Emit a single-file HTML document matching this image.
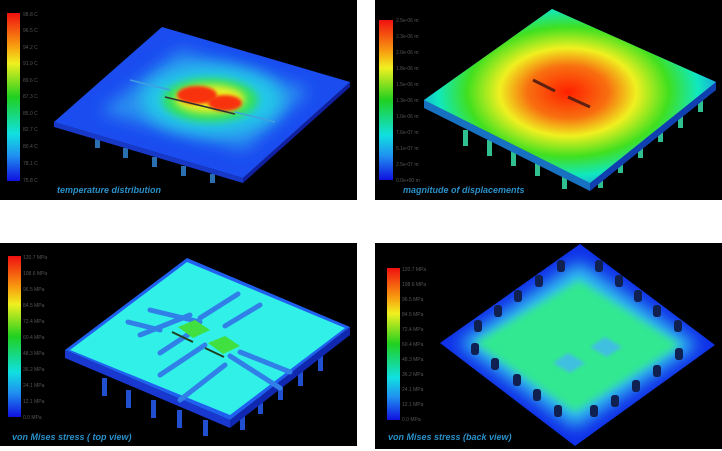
<!DOCTYPE html>
<html><head><meta charset="utf-8"><style>
html,body{margin:0;padding:0;background:#fff;width:722px;height:451px;overflow:hidden}
svg{display:block}
text{font-family:"Liberation Sans",sans-serif}
</style></head><body>
<svg width="722" height="451" viewBox="0 0 722 451" xmlns="http://www.w3.org/2000/svg">
<defs>
<linearGradient id="cb" x1="0" y1="0" x2="0" y2="1">
<stop offset="0" stop-color="#f01010"/><stop offset="0.2" stop-color="#f8a010"/><stop offset="0.3" stop-color="#f0f020"/>
<stop offset="0.5" stop-color="#20d020"/><stop offset="0.72" stop-color="#10e0e0"/><stop offset="0.85" stop-color="#2090f0"/><stop offset="1" stop-color="#1010e0"/>
</linearGradient>
<filter id="b4" x="-50%" y="-50%" width="200%" height="200%"><feGaussianBlur stdDeviation="4"/></filter>
<filter id="b8" x="-50%" y="-50%" width="200%" height="200%"><feGaussianBlur stdDeviation="8"/></filter>
<filter id="b2" x="-50%" y="-50%" width="200%" height="200%"><feGaussianBlur stdDeviation="1.5"/></filter>
<radialGradient id="disp" cx="0.5" cy="0.5" r="0.55">
<stop offset="0" stop-color="#ff2000"/><stop offset="0.25" stop-color="#f87010"/><stop offset="0.42" stop-color="#f0f020"/>
<stop offset="0.62" stop-color="#40e020"/><stop offset="0.8" stop-color="#10e8c0"/><stop offset="1" stop-color="#2080f0"/>
</radialGradient>
</defs>

<rect x="0" y="0" width="357" height="200" fill="#000"/>
<rect x="375" y="0" width="347" height="200" fill="#000"/>
<rect x="0" y="243" width="357" height="203" fill="#000"/>
<rect x="375" y="243" width="347" height="206" fill="#000"/>

<!-- TL temperature -->
<rect x="7" y="13" width="13" height="168" fill="url(#cb)"/>
<g fill="#555" font-size="5">
<text x="23" y="16">98.8 C</text><text x="23" y="32">96.5 C</text><text x="23" y="49">94.2 C</text><text x="23" y="65">91.9 C</text><text x="23" y="82">89.6 C</text><text x="23" y="98">87.3 C</text><text x="23" y="115">85.0 C</text><text x="23" y="131">82.7 C</text><text x="23" y="148">80.4 C</text><text x="23" y="165">78.1 C</text><text x="23" y="182">75.8 C</text>
</g>
<g fill="#2a70b0"><rect x="95" y="138" width="5" height="10"/><rect x="123" y="148" width="5" height="10"/><rect x="152" y="157" width="5" height="10"/><rect x="181" y="166" width="5" height="10"/><rect x="210" y="174" width="5" height="9"/></g>
<polygon points="54,122 243,178 243,183 54,127" fill="#1838c8"/>
<polygon points="243,178 350,82 350,87 243,183" fill="#1020a0"/>
<polygon points="162,27 350,82 243,178 54,122" fill="#1a4cf0"/>
<clipPath id="c1"><polygon points="162,27 350,82 243,178 54,122"/></clipPath>
<g clip-path="url(#c1)">
<polygon points="180,50 310,90 245,150 100,112" fill="#2a90f0" filter="url(#b8)"/>
<ellipse cx="212" cy="100" rx="70" ry="34" fill="#20c8e8" filter="url(#b8)"/>
<ellipse cx="210" cy="100" rx="48" ry="22" fill="#30e060" filter="url(#b4)"/>
<ellipse cx="210" cy="99" rx="35" ry="14" fill="#f0f020" filter="url(#b4)"/>
<ellipse cx="197" cy="95" rx="20" ry="9" fill="#f83010" filter="url(#b2)"/>
<ellipse cx="225" cy="103" rx="17" ry="8" fill="#f83010" filter="url(#b2)"/>
<line x1="165" y1="97" x2="235" y2="114" stroke="#303030" stroke-width="1.5"/>
<line x1="130" y1="80" x2="170" y2="90" stroke="#40a0e0" stroke-width="1.5"/>
<line x1="235" y1="112" x2="275" y2="122" stroke="#40a0e0" stroke-width="1.5"/>
</g>
<text x="57" y="193" font-size="9" font-style="italic" font-weight="bold" fill="#2a90c8">temperature distribution</text>

<!-- TR displacement -->
<rect x="379" y="20" width="14" height="160" fill="url(#cb)"/>
<g fill="#555" font-size="5">
<text x="396" y="22">2.5e-06 m</text><text x="396" y="38">2.3e-06 m</text><text x="396" y="54">2.0e-06 m</text><text x="396" y="70">1.8e-06 m</text><text x="396" y="86">1.5e-06 m</text><text x="396" y="102">1.3e-06 m</text><text x="396" y="118">1.0e-06 m</text><text x="396" y="134">7.6e-07 m</text><text x="396" y="150">5.1e-07 m</text><text x="396" y="166">2.5e-07 m</text><text x="396" y="182">0.0e+00 m</text>
</g>
<g fill="#30c090"><rect x="463" y="130" width="5" height="16"/><rect x="487" y="140" width="5" height="16"/><rect x="511" y="150" width="5" height="16"/><rect x="535" y="160" width="5" height="16"/><rect x="562" y="171" width="5" height="18"/><rect x="598" y="170" width="5" height="18"/><rect x="618" y="155" width="5" height="18"/><rect x="638" y="140" width="5" height="18"/><rect x="658" y="126" width="5" height="16"/><rect x="678" y="112" width="5" height="16"/><rect x="698" y="96" width="5" height="16"/></g>
<polygon points="424,100 590,183 590,191 424,108" fill="#1870c0"/>
<polygon points="590,183 716,82 716,90 590,191" fill="#1040b0"/>
<polygon points="552,9 716,82 590,183 424,100" fill="#3080f0"/>
<clipPath id="c2"><polygon points="552,9 716,82 590,183 424,100"/></clipPath>
<g clip-path="url(#c2)">
<ellipse cx="568" cy="92" rx="148" ry="95" fill="url(#disp)"/>
<line x1="533" y1="80" x2="555" y2="91" stroke="#602010" stroke-width="3"/>
<line x1="568" y1="97" x2="590" y2="107" stroke="#602010" stroke-width="3"/>
</g>
<text x="403" y="193" font-size="9" font-style="italic" font-weight="bold" fill="#2a90c8">magnitude of displacements</text>

<!-- BL top view -->
<rect x="8" y="256" width="13" height="161" fill="url(#cb)"/>
<g fill="#555" font-size="5">
<text x="23" y="259">120.7 MPa</text><text x="23" y="275">108.6 MPa</text><text x="23" y="291">96.5 MPa</text><text x="23" y="307">84.5 MPa</text><text x="23" y="323">72.4 MPa</text><text x="23" y="339">60.4 MPa</text><text x="23" y="355">48.3 MPa</text><text x="23" y="371">36.2 MPa</text><text x="23" y="387">24.1 MPa</text><text x="23" y="403">12.1 MPa</text><text x="23" y="419">0.0 MPa</text>
</g>
<g fill="#2050d0"><rect x="102" y="378" width="5" height="18"/><rect x="126" y="390" width="5" height="18"/><rect x="151" y="400" width="5" height="18"/><rect x="177" y="410" width="5" height="18"/><rect x="203" y="420" width="5" height="16"/><rect x="240" y="412" width="5" height="18"/><rect x="258" y="396" width="5" height="18"/><rect x="278" y="382" width="5" height="18"/><rect x="298" y="368" width="5" height="18"/><rect x="318" y="353" width="5" height="18"/></g>
<polygon points="65,350 230,420 230,428 65,358" fill="#1838d0"/>
<polygon points="230,420 350,327 350,335 230,428" fill="#1028b0"/>
<polygon points="187,258 350,327 230,420 65,350" fill="#2060f0"/>
<polygon points="187,262 345,328 230,415 70,350" fill="#30f0e8"/>
<g stroke="#3080e8" stroke-width="5" stroke-linecap="round" fill="none">
<line x1="140" y1="335" x2="190" y2="315"/><line x1="160" y1="353" x2="195" y2="330"/>
<line x1="200" y1="318" x2="238" y2="294"/><line x1="225" y1="326" x2="260" y2="305"/>
<line x1="230" y1="356" x2="280" y2="388"/><line x1="240" y1="352" x2="290" y2="372"/>
<line x1="150" y1="310" x2="200" y2="322"/><line x1="128" y1="322" x2="160" y2="330"/>
<line x1="180" y1="400" x2="225" y2="365"/><line x1="160" y1="375" x2="205" y2="345"/>
</g>
<polygon points="178,327 195,320 210,330 193,338" fill="#40e040"/>
<polygon points="208,343 225,336 240,346 223,354" fill="#40e040"/>
<line x1="172" y1="332" x2="193" y2="342" stroke="#204020" stroke-width="2"/>
<line x1="205" y1="348" x2="224" y2="357" stroke="#204020" stroke-width="2"/>
<text x="12" y="440" font-size="9" font-style="italic" font-weight="bold" fill="#2a90c8">von Mises stress ( top view)</text>

<!-- BR back view -->
<rect x="387" y="268" width="13" height="152" fill="url(#cb)"/>
<g fill="#555" font-size="5">
<text x="402" y="271">120.7 MPa</text><text x="402" y="286">108.6 MPa</text><text x="402" y="301">96.5 MPa</text><text x="402" y="316">84.5 MPa</text><text x="402" y="331">72.4 MPa</text><text x="402" y="346">60.4 MPa</text><text x="402" y="361">48.3 MPa</text><text x="402" y="376">36.2 MPa</text><text x="402" y="391">24.1 MPa</text><text x="402" y="406">12.1 MPa</text><text x="402" y="421">0.0 MPa</text>
</g>
<polygon points="580,244 715,345 575,446 440,343" fill="#1030e8"/>
<clipPath id="c4"><polygon points="580,244 715,345 575,446 440,343"/></clipPath>
<g clip-path="url(#c4)">
<polygon points="579,262 698,345 575,428 458,343" fill="#30c0f0" filter="url(#b8)"/>
<polygon points="579,280 680,345 575,412 475,343" fill="#30e890" filter="url(#b4)"/>
<polygon points="590,347 605,337 622,347 607,357" fill="#40c0e0" filter="url(#b2)"/>
<polygon points="553,363 568,353 585,363 570,373" fill="#40c0e0" filter="url(#b2)"/>
</g>
<g fill="#102050">
<rect x="557" y="260" width="8" height="12" rx="3"/><rect x="595" y="260" width="8" height="12" rx="3"/>
<rect x="535" y="275" width="8" height="12" rx="3"/><rect x="615" y="275" width="8" height="12" rx="3"/>
<rect x="514" y="290" width="8" height="12" rx="3"/><rect x="634" y="290" width="8" height="12" rx="3"/>
<rect x="494" y="305" width="8" height="12" rx="3"/><rect x="653" y="305" width="8" height="12" rx="3"/>
<rect x="474" y="320" width="8" height="12" rx="3"/><rect x="674" y="320" width="8" height="12" rx="3"/>
<rect x="471" y="343" width="8" height="12" rx="3"/><rect x="675" y="348" width="8" height="12" rx="3"/>
<rect x="491" y="358" width="8" height="12" rx="3"/><rect x="653" y="365" width="8" height="12" rx="3"/>
<rect x="513" y="374" width="8" height="12" rx="3"/><rect x="632" y="380" width="8" height="12" rx="3"/>
<rect x="533" y="389" width="8" height="12" rx="3"/><rect x="611" y="395" width="8" height="12" rx="3"/>
<rect x="554" y="405" width="8" height="12" rx="3"/><rect x="590" y="405" width="8" height="12" rx="3"/>
</g>
<text x="388" y="440" font-size="9" font-style="italic" font-weight="bold" fill="#2a90c8">von Mises stress (back view)</text>
</svg>
</body></html>
